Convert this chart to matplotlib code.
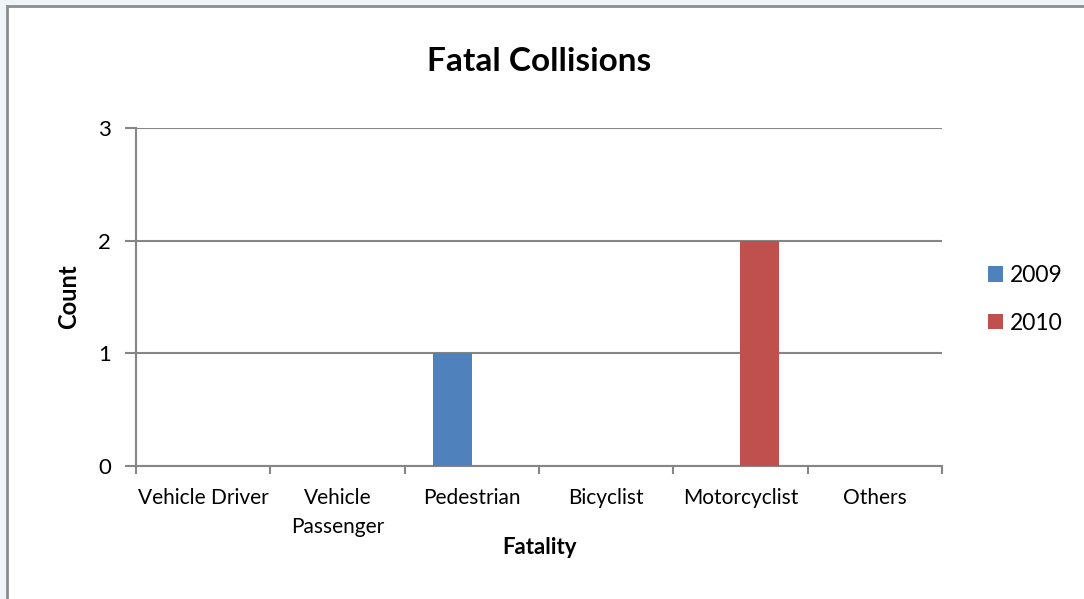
import numpy as np
import matplotlib.pyplot as plt
from matplotlib.patches import Rectangle

categories = ['Vehicle Driver', 'Vehicle\nPassenger', 'Pedestrian', 'Bicyclist', 'Motorcyclist', 'Others']
counts_2009 = [0, 0, 1, 0, 0, 0]
counts_2010 = [0, 0, 0, 0, 2, 0]
years = ['2009', '2010']

plt.rcParams['font.family'] = ['Lato', 'DejaVu Sans']

grid_col = '#868686'
fig = plt.figure(figsize=(10.84, 5.99), dpi=100)
fig.patch.set_facecolor('#eef4f7')

# white chart area with a grey frame on the top/left
fig.patches.append(Rectangle((7 / 1084, -0.05), 1.1, 1.05 - 6 / 599,
                             transform=fig.transFigure, facecolor='white',
                             edgecolor='#8c8c8c', linewidth=2, zorder=-10))

ax = fig.add_axes([136 / 1084, 1 - 466 / 599, (942 - 136) / 1084, (466 - 128) / 599])
ax.set_facecolor('white')

x = np.arange(len(categories))
w = 0.29
ax.bar(x - w / 2, counts_2009, w, color='#4f81bd', label=years[0], zorder=3)
ax.bar(x + w / 2, counts_2010, w, color='#c0504d', label=years[1], zorder=3)

ax.set_xlim(-0.5, len(categories) - 0.5)
ax.set_ylim(0, 3)
ax.set_yticks([0, 1, 2, 3])
ax.yaxis.grid(True, color=grid_col, linewidth=1.5, zorder=1)

ax.set_xticks(x)
ax.set_xticklabels(categories, fontsize=15, linespacing=1.55)
ax.set_xticks(np.arange(-0.5, len(categories)), minor=True)
ax.tick_params(axis='x', which='major', length=0, pad=16)
ax.tick_params(axis='x', which='minor', length=6, width=1.5, color=grid_col)
ax.tick_params(axis='y', length=8, width=1.5, color=grid_col, labelsize=16, pad=10)

for side in ['top', 'right']:
    ax.spines[side].set_visible(False)
for side in ['left', 'bottom']:
    ax.spines[side].set_color(grid_col)
    ax.spines[side].set_linewidth(1.5)

ax.set_title('Fatal Collisions', fontsize=24, fontweight='bold', pad=41)
ax.set_xlabel('Fatality', fontsize=16, fontweight='bold', labelpad=0)
ax.set_ylabel('Count', fontsize=17, fontweight='bold', labelpad=13)

ax.legend(loc='center left', bbox_to_anchor=(1.031, 0.493), frameon=False,
          fontsize=16.5, handlelength=0.65, handleheight=0.65, labelspacing=1.15,
          handletextpad=0.3)

fig.savefig('out.png', dpi=100, facecolor=fig.get_facecolor())
